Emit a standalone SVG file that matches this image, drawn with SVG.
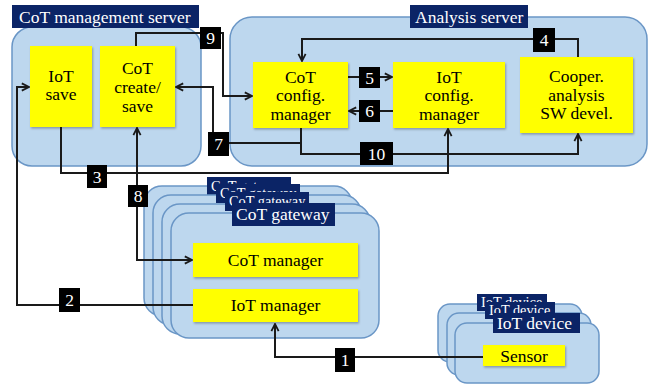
<svg xmlns="http://www.w3.org/2000/svg" width="649" height="384" viewBox="0 0 649 384">
<style>
.cont{fill:#bdd7ee;stroke:#6a96c6;stroke-width:1.5}
.node{fill:#ffff00;filter:url(#sh)}
.hdr{fill:#0b2466}
.ht{fill:#ffffff;font-size:17.5px}
.hs{fill:#ffffff;font-size:14.3px}
.t{fill:#000000;font-size:17.5px;text-anchor:middle}
.num{fill:#000000}
.nt{fill:#ffffff;font-size:17.5px;text-anchor:middle}
.c{fill:none;stroke:#1a1a1a;stroke-width:2;marker-end:url(#ah)}
</style>
<defs>
<marker id="ah" viewBox="0 0 10 10" refX="9" refY="5" markerWidth="9" markerHeight="10" markerUnits="userSpaceOnUse" orient="auto-start-reverse">
<path d="M1,1 L9,5 L1,9" fill="none" stroke="#1a1a1a" stroke-width="2"/>
</marker>
<filter id="sh" x="-10%" y="-10%" width="120%" height="130%">
<feDropShadow dx="1" dy="1.5" stdDeviation="1" flood-color="#000" flood-opacity="0.3"/>
</filter>
</defs>
<rect width="649" height="384" fill="#ffffff"/>
<g font-family="Liberation Serif, Times New Roman, DejaVu Serif, serif">

<g id="cot-management-server">
<rect class="cont" x="12" y="27" width="189" height="139" rx="20"/>
<rect class="hdr" x="12" y="5" width="187" height="23"/>
<text class="ht" x="19" y="23">CoT management server</text>
</g>
<g id="iot-save">
<rect class="node" x="30" y="46" width="62" height="81"/>
<text class="t" x="61" y="82">IoT</text>
<text class="t" x="61" y="100">save</text>
</g>
<g id="cot-create-save">
<rect class="node" x="100" y="46" width="75" height="81"/>
<text class="t" x="137.5" y="74">CoT</text>
<text class="t" x="137.5" y="93">create/</text>
<text class="t" x="137.5" y="112">save</text>
</g>

<g id="analysis-server">
<rect class="cont" x="230" y="17" width="417" height="149" rx="22"/>
<rect class="hdr" x="410" y="5" width="118" height="23"/>
<text class="ht" x="415" y="23">Analysis server</text>
</g>
<g id="cot-config-manager">
<rect class="node" x="253" y="62" width="95" height="66"/>
<text class="t" x="300.5" y="82.5">CoT</text>
<text class="t" x="300.5" y="101">config.</text>
<text class="t" x="300.5" y="119.5">manager</text>
</g>
<g id="iot-config-manager">
<rect class="node" x="393" y="62" width="112" height="66"/>
<text class="t" x="449" y="82.5">IoT</text>
<text class="t" x="449" y="101">config.</text>
<text class="t" x="449" y="119.5">manager</text>
</g>
<g id="cooper-analysis">
<rect class="node" x="520" y="57" width="113" height="76"/>
<text class="t" x="576.5" y="82">Cooper.</text>
<text class="t" x="576.5" y="100.5">analysis</text>
<text class="t" x="576.5" y="119">SW devel.</text>
</g>

<g id="cot-gateway">
<rect class="cont" x="144" y="186" width="208" height="130" rx="18"/>
<rect class="hdr" x="207" y="177" width="84" height="19"/>
<text class="hs" x="211" y="191">CoT gateway</text>
<rect class="cont" x="153" y="195" width="208" height="130" rx="18"/>
<rect class="hdr" x="216" y="184" width="84" height="19"/>
<text class="hs" x="220" y="198">CoT gateway</text>
<rect class="cont" x="162" y="204" width="208" height="130" rx="18"/>
<rect class="hdr" x="225" y="192" width="84" height="19"/>
<text class="hs" x="229" y="206">CoT gateway</text>
<rect class="cont" x="171" y="213" width="208" height="125" rx="18"/>
<rect class="hdr" x="232" y="203" width="103" height="23"/>
<text class="ht" x="236" y="220">CoT gateway</text>
</g>
<g id="cot-manager">
<rect class="node" x="193" y="243" width="165" height="34"/>
<text class="t" x="275.5" y="266">CoT manager</text>
</g>
<g id="iot-manager">
<rect class="node" x="193" y="289" width="165" height="33"/>
<text class="t" x="275.5" y="311">IoT manager</text>
</g>

<g id="iot-device">
<rect class="cont" x="438" y="304" width="144" height="58" rx="12"/>
<rect class="hdr" x="477" y="294" width="70" height="17"/>
<text class="hs" x="481" y="307">IoT device</text>
<rect class="cont" x="447" y="313" width="144" height="62" rx="12"/>
<rect class="hdr" x="485" y="302" width="70" height="17"/>
<text class="hs" x="489" y="315">IoT device</text>
<rect class="cont" x="455" y="323" width="144" height="60" rx="12"/>
<rect class="hdr" x="493" y="313" width="87" height="20"/>
<text class="ht" x="497" y="329">IoT device</text>
</g>
<g id="sensor">
<rect class="node" x="483" y="345" width="82" height="21"/>
<text class="t" x="524" y="362">Sensor</text>
</g>

<g id="connectors">
<path class="c" d="M483,357 H275 V324"/>
<path class="c" d="M193,305 H17 V87 H29"/>
<path class="c" d="M61,127 V173 H448 V129"/>
<path class="c" d="M578,57 V39 H302 V61"/>
<path class="c" d="M348,77 H392"/>
<path class="c" d="M393,111 H349"/>
<path class="c" d="M301,128 V143 H213 V87 H176"/>
<path class="c" d="M301,128 V154 H578 V134"/>
<path class="c" style="marker-start:url(#ah)" d="M137,128 V260 H192"/>
<path class="c" d="M136,46 V33 H223 V96 H252"/>
<rect class="num" x="335" y="348" width="20" height="24"/><text class="nt" x="345" y="366">1</text>
<rect class="num" x="59" y="288" width="21" height="24"/><text class="nt" x="69.5" y="306">2</text>
<rect class="num" x="87" y="165" width="20" height="23"/><text class="nt" x="97" y="182.5">3</text>
<rect class="num" x="533" y="28" width="22" height="24"/><text class="nt" x="544" y="46">4</text>
<rect class="num" x="359" y="67" width="21" height="21"/><text class="nt" x="369.5" y="83.5">5</text>
<rect class="num" x="359" y="100" width="21" height="22"/><text class="nt" x="369.5" y="117">6</text>
<rect class="num" x="208" y="132" width="21" height="24"/><text class="nt" x="218.5" y="150">7</text>
<rect class="num" x="128" y="185" width="20" height="22"/><text class="nt" x="138" y="202">8</text>
<rect class="num" x="200" y="27" width="21" height="22"/><text class="nt" x="210.5" y="44">9</text>
<rect class="num" x="360" y="142" width="33" height="23"/><text class="nt" x="376.5" y="159.5">10</text>
</g>
</g>
</svg>
